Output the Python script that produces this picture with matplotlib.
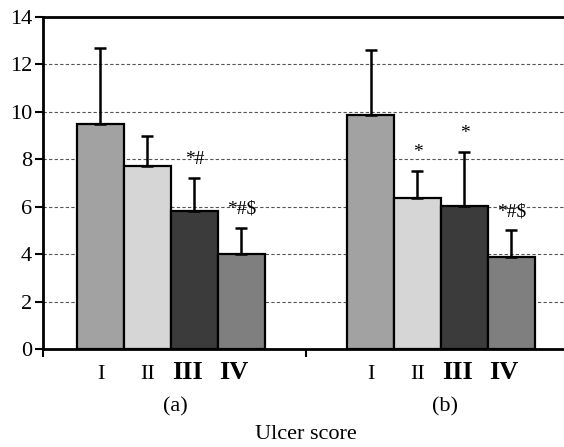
import numpy as np
import matplotlib.pyplot as plt

plt.rcParams['font.family'] = ['Liberation Serif', 'DejaVu Serif']

groups = ["(a)", "(b)"]
scores = ["I", "II", "III", "IV"]
means_a = [9.5, 7.7, 5.8, 4.0]
err_a = [3.2, 1.3, 1.4, 1.1]
means_b = [9.85, 6.35, 6.05, 3.9]
err_b = [2.75, 1.15, 2.25, 1.1]
marks_a = ["", "", "*#", "*#$"]
marks_b = ["", "*", "*", "*#$"]
colors = ["#a2a2a2", "#d6d6d6", "#3b3b3b", "#7f7f7f"]

fig = plt.figure(figsize=(5.64, 4.47), dpi=100)
ax = fig.add_axes([0.0762, 0.2192, 0.9326, 0.7427])

w = 0.174
offsets = (np.arange(4) - 1.5) * w
label_shift = [0.0, 0.0, -0.026, -0.028]
for g, (means, errs, marks) in enumerate([(means_a, err_a, marks_a), (means_b, err_b, marks_b)]):
    xs = g + offsets
    ax.bar(xs, means, width=w, color=colors, edgecolor="black", linewidth=1.6, zorder=3)
    ax.errorbar(xs, means, yerr=[np.zeros(4), errs], fmt="none", ecolor="black",
                elinewidth=1.8, capsize=4.5, capthick=1.8, zorder=4)
    for x, m, e, s in zip(xs, means, errs, marks):
        if s:
            ax.text(x, m + e + 0.6, s, ha="center", va="baseline", fontsize=14)
    for i, (x, s) in enumerate(zip(xs, scores)):
        big = i >= 2
        ax.text(x + label_shift[i], -1.27, s, ha="center", va="baseline",
                fontsize=19 if big else 16, fontweight="bold" if big else "normal")
    ax.text(g + 0.015, -2.62, groups[g], ha="center", va="baseline", fontsize=16)

ax.text(0.5, -3.8, "Ulcer score", ha="center", va="baseline", fontsize=16)

ax.set_ylim(0, 14)
ax.set_xlim(-0.474, 1.474)
ax.set_yticks(range(0, 15, 2))
ax.set_xticks([-0.474, 0.5, 1.474])
ax.set_xticklabels([])
ax.tick_params(axis="y", direction="out", length=6, width=1.5, labelsize=16, pad=2)
ax.tick_params(axis="x", direction="out", length=6, width=1.5)
for y in range(2, 14, 2):
    ax.axhline(y, color="#555555", linestyle=(0, (3, 2)), linewidth=0.8, zorder=1)
for side in ["left", "bottom", "top"]:
    ax.spines[side].set_linewidth(2)
ax.spines["right"].set_visible(False)

fig.savefig("out.png", dpi=100)
